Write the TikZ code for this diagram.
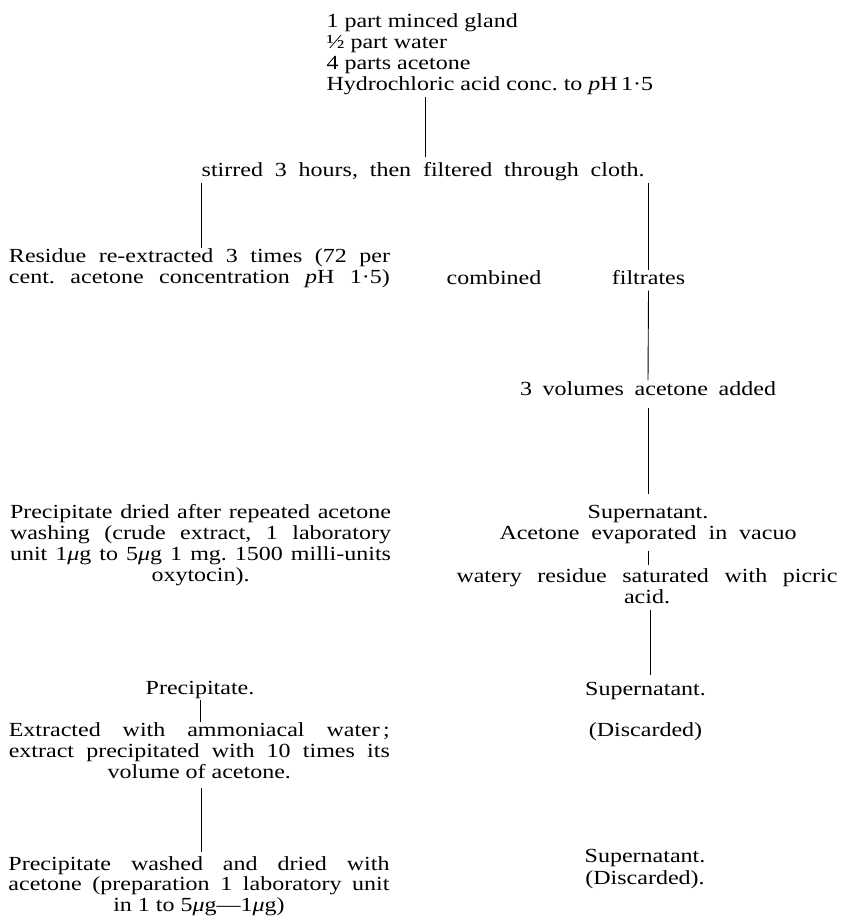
\documentclass[tikz,border=0pt]{standalone}
\usepackage{fontspec}
\setmainfont{Liberation Serif}[FakeStretch=1.2]
\frenchspacing
\newcommand{\jl}[2][381pt]{\makebox[#1][s]{#2}}
\newcommand{\blk}[2][382pt]{\parbox[t]{#1}{\centering\strut #2\strut}}
\newcommand{\mug}{\textit{μ}g}
\tikzset{
  every node/.style={inner sep=0pt, outer sep=0pt, font=\fontsize{20}{21}\selectfont},
  txt/.style={anchor=base},
  link/.style={line width=0.9pt, draw=black}
}
\begin{document}
\begin{tikzpicture}[x=1pt,y=-1pt]
\useasboundingbox (0,0) rectangle (841,917);
% top block
\node[anchor=base west] (top) at (326.5,27.3)
  {\parbox[t]{420pt}{\raggedright\strut 1 part minced gland\\ ½ part water\\ 4 parts acetone\\ Hydrochloric acid conc. to \textit{p}H\,1·5\strut}};
\node[anchor=base west] (stir) at (201.7,176.7)
  {\strut\makebox[443pt][s]{stirred 3 hours, then filtered through cloth.}};
% left column
\node[txt] (res) at (199.5,262.7)
  {\blk{\jl{Residue re-extracted 3 times (72 per}\\ \jl{cent. acetone concentration \textit{p}H 1·5)}}};
\node[anchor=base west] (comb) at (446.7,284.3) {\strut combined};
\node[txt] (filt) at (648.5,284.3) {\strut filtrates};
\node[txt] (vol) at (648,395) {\strut\makebox[256pt][s]{3 volumes acetone added}};
\node[txt] (pdry) at (200.5,518.3)
  {\blk{\jl{Precipitate dried after repeated acetone}\\ \jl{washing (crude extract, 1 laboratory}\\ \jl{unit 1\mug{} to 5\mug{} 1 mg. 1500 milli-units}\\ oxytocin).}};
\node[txt] (sup1) at (648,518.3)
  {\blk{Supernatant.\\ \makebox[297pt][s]{Acetone evaporated in vacuo}}};
\node[txt] (wat) at (647,582.7)
  {\blk{\jl{watery residue saturated with picric}\\ acid.}};
\node[txt] (prec) at (200,694) {\strut Precipitate.};
\node[txt] (sup2) at (645.5,695) {\strut Supernatant.};
\node[txt] (ext) at (199.3,736.7)
  {\blk{\jl{Extracted with ammoniacal water\,;}\\ \jl{extract precipitated with 10 times its}\\ volume of acetone.}};
\node[txt] (disc1) at (645.5,736.7) {\strut (Discarded)};
\node[txt] (wash) at (199,870)
  {\blk{\fontsize{20}{20.5}\selectfont\strut\jl{Precipitate washed and dried with}\\ \jl{acetone (preparation 1 laboratory unit}\\ in 1 to 5\mug—1\mug)}};
\node[txt] (sup3) at (645,862.7)
  {\blk{\fontsize{20}{20}\selectfont\strut Supernatant.\\ (Discarded).}};
% connectors
\draw[link, shorten >=5pt] ([xshift=2pt]stir.north |- top.south) -- ([xshift=2pt]stir.north);
\draw[link] ([xshift=2pt]res.north |- stir.south) -- ([xshift=2pt]res.north);
\draw[link] (filt.north |- stir.south) -- (filt.north);
\draw[link] (filt.south) -- (vol.north);
\draw[link, shorten <=7pt, shorten >=10pt] (vol.south) -- (vol.south |- sup1.north);
\draw[link, shorten <=5pt, shorten >=3pt] (sup1.south) -- (sup1.south |- wat.north);
\draw[link, shorten >=5pt] ([xshift=3pt]wat.south) -- ([xshift=3pt]wat.south |- sup2.north);
\draw[link] (prec.south) -- (prec.south |- ext.north);
\draw[link, shorten <=3pt, shorten >=3pt] ([xshift=2pt]ext.south) -- ([xshift=2pt]ext.south |- wash.north);
\end{tikzpicture}
\end{document}
